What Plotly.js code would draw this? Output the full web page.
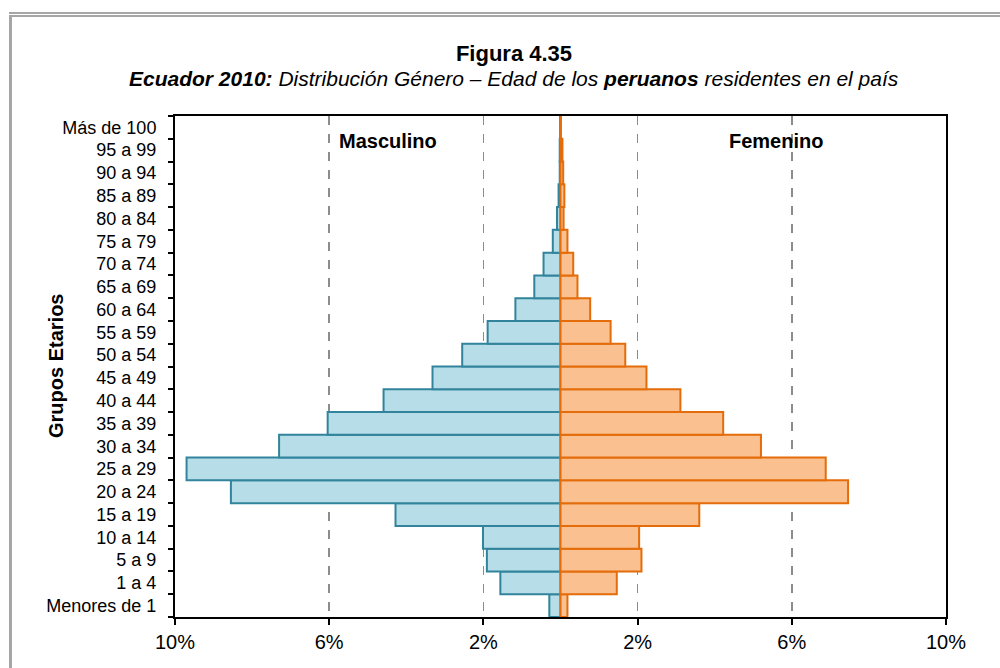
<!DOCTYPE html>
<html>
<head>
<meta charset="utf-8">
<script src="https://cdn.plot.ly/plotly-3.0.1.min.js"></script>
<style>
  html, body { margin: 0; padding: 0; background: #ffffff; }
  #wrap { position: relative; width: 1000px; height: 668px; overflow: hidden; }
  #frameTop1 { position: absolute; left: 9px; top: 12px; width: 1000px; height: 2px; background: #a6a6a6; }
  #frameTop2 { position: absolute; left: 9px; top: 15px; width: 1000px; height: 2px; background: #a6a6a6; }
  #frameLeft { position: absolute; left: 9px; top: 17px; width: 3px; height: 660px; background: #a6a6a6; }
  #chart { position: absolute; left: 0; top: 0; width: 1000px; height: 668px; }
</style>
</head>
<body>
<div id="wrap">
  <div id="frameTop1"></div>
  <div id="frameTop2"></div>
  <div id="frameLeft"></div>
  <div id="chart"></div>
</div>
<script>
// Age groups, bottom to top
const ageGroups = ["Menores de 1", "1 a 4", "5 a 9", "10 a 14", "15 a 19", "20 a 24", "25 a 29",
  "30 a 34", "35 a 39", "40 a 44", "45 a 49", "50 a 54", "55 a 59", "60 a 64", "65 a 69",
  "70 a 74", "75 a 79", "80 a 84", "85 a 89", "90 a 94", "95 a 99", "Más de 100"];

// Percent of population
const masculino = [0.29, 1.56, 1.91, 2.01, 4.28, 8.55, 9.70, 7.30, 6.04, 4.59, 3.32, 2.55, 1.89,
  1.17, 0.68, 0.44, 0.20, 0.09, 0.05, 0.02, 0.02, 0.01];
const femenino = [0.18, 1.46, 2.10, 2.04, 3.60, 7.46, 6.88, 5.20, 4.22, 3.11, 2.23, 1.68, 1.30,
  0.77, 0.44, 0.33, 0.18, 0.08, 0.10, 0.07, 0.05, 0.01];

const tickValues = [-10, -6, -2, 2, 6, 10];
const tickLabels = ["10%", "6%", "2%", "2%", "6%", "10%"];

const FONT = "Arial, 'Liberation Sans', sans-serif";

const traces = [
  {
    type: "bar", orientation: "h", name: "Masculino",
    y: ageGroups, x: masculino.map(v => -v),
    marker: { color: "#b7dee8", line: { color: "#31849b", width: 2 } },
    hoverinfo: "skip"
  },
  {
    type: "bar", orientation: "h", name: "Femenino",
    y: ageGroups, x: femenino,
    marker: { color: "#fac08f", line: { color: "#e46c0a", width: 2 } },
    hoverinfo: "skip"
  }
];

const layout = {
  width: 1000, height: 668,
  paper_bgcolor: "rgba(0,0,0,0)",
  plot_bgcolor: "#ffffff",
  margin: { l: 175, r: 54, t: 116, b: 51 },
  showlegend: false,
  barmode: "overlay",
  bargap: 0,
  font: { family: FONT, size: 18, color: "#000000" },
  title: {
    text: "<b>Figura 4.35</b>",
    font: { family: FONT, size: 22, color: "#000000" },
    x: 0.514, xref: "container", xanchor: "center",
    y: 1 - 53 / 668, yref: "container", yanchor: "middle"
  },
  xaxis: {
    range: [-10, 10],
    tickvals: tickValues, ticktext: tickLabels,
    ticks: "outside", ticklen: 6, tickwidth: 2, tickcolor: "#000000",
    showline: true, linecolor: "#000000", linewidth: 2, mirror: true,
    showgrid: true, gridcolor: "#8c8c8c", gridwidth: 1.5, griddash: "dash",
    zeroline: false,
    tickfont: { family: FONT, size: 20, color: "#000000" },
    fixedrange: true
  },
  yaxis: {
    type: "category",
    categoryorder: "array", categoryarray: ageGroups,
    tickson: "boundaries",
    ticks: "outside", ticklen: 5, tickwidth: 2, tickcolor: "#000000",
    showline: true, linecolor: "#000000", linewidth: 2, mirror: true,
    showgrid: false, zeroline: false,
    ticklabelstandoff: 13,
    tickfont: { family: FONT, size: 18, color: "#000000" },
    fixedrange: true
  },
  annotations: [
    {
      text: "<b><i>Ecuador 2010:</i></b><i> Distribución Género – Edad de los </i><b><i>peruanos</i></b><i> residentes en el país</i>",
      xref: "paper", yref: "paper", x: (514 - 175) / 771, y: 1 + (116 - 78) / 501,
      xanchor: "center", yanchor: "middle", showarrow: false,
      font: { family: FONT, size: 21, color: "#000000" }
    },
    {
      text: "<b>Grupos Etarios</b>", textangle: -90,
      xref: "paper", yref: "paper", x: (56 - 175) / 771, y: (617 - 366) / 501,
      xanchor: "center", yanchor: "middle", showarrow: false,
      font: { family: FONT, size: 20, color: "#000000" }
    },
    {
      text: "<b>Masculino</b>",
      xref: "paper", yref: "paper", x: (388 - 175) / 771, y: (617 - 141) / 501,
      xanchor: "center", yanchor: "middle", showarrow: false,
      font: { family: FONT, size: 20, color: "#000000" }
    },
    {
      text: "<b>Femenino</b>",
      xref: "paper", yref: "paper", x: (776 - 175) / 771, y: (617 - 141) / 501,
      xanchor: "center", yanchor: "middle", showarrow: false,
      font: { family: FONT, size: 20, color: "#000000" }
    }
  ]
};

Plotly.newPlot("chart", traces, layout, { displayModeBar: false, staticPlot: true });
</script>
</body>
</html>
